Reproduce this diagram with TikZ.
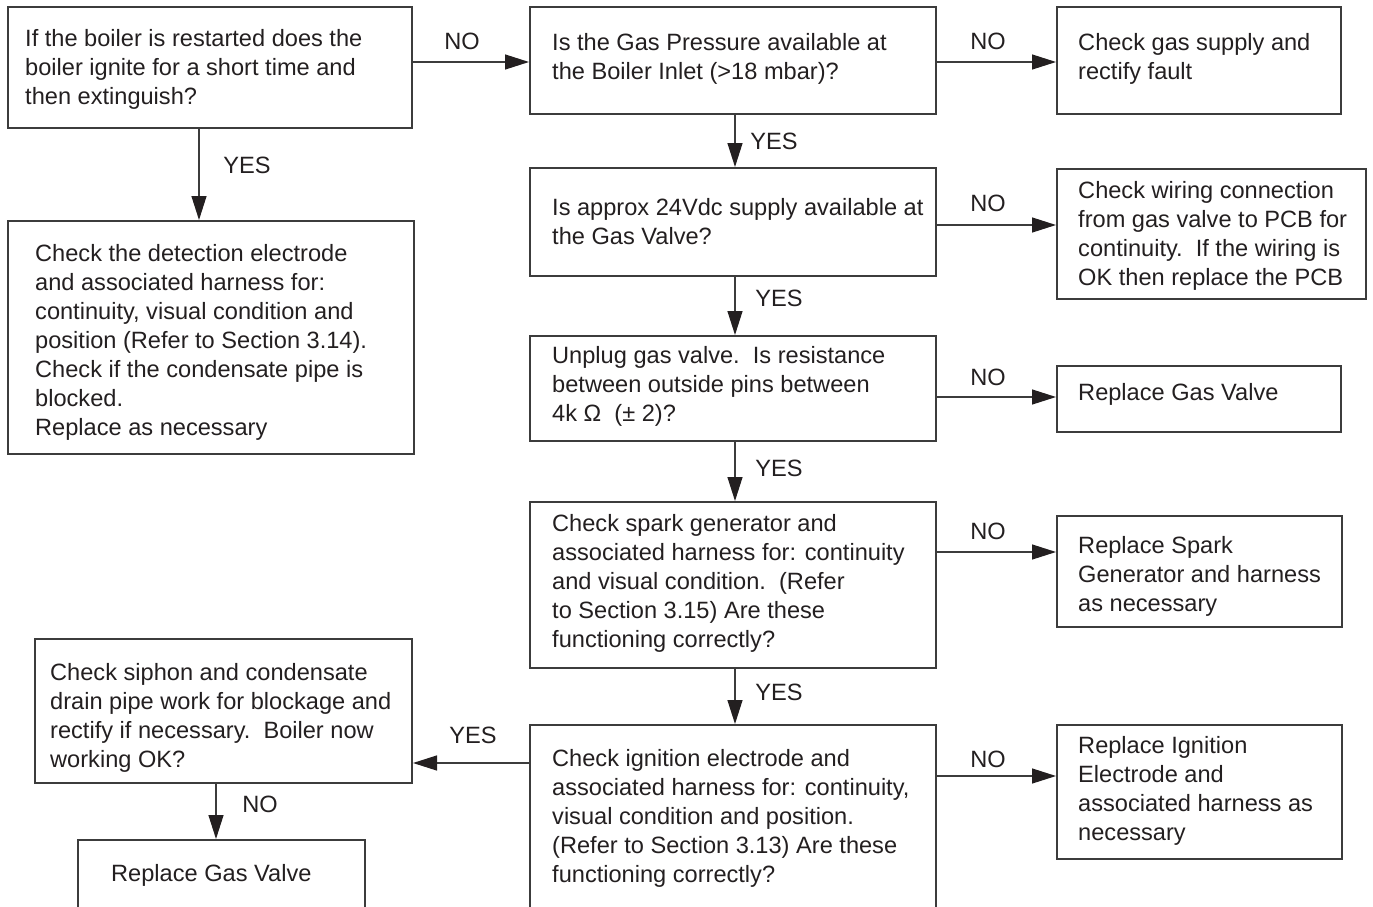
\documentclass[tikz,border=0pt]{standalone}
\usepackage{fontspec}
\setmainfont{Liberation Sans}
\usetikzlibrary{arrows.meta}
\definecolor{tc}{HTML}{231F20}
\definecolor{lc}{HTML}{3C3C3C}
\begin{document}
\begin{tikzpicture}[x=1pt,y=-1pt,
  box/.style={draw=lc, line width=1.3pt, inner sep=0pt, anchor=north west, outer sep=0pt},
  txt/.style={anchor=base west, align=left, inner sep=0pt, text=tc, font=\fontsize{23.6}{29}\selectfont},
  lbl/.style={anchor=base, inner sep=0pt, text=tc, font=\fontsize{23.6}{29}\selectfont},
  arr/.style={draw=lc, line width=1.3pt, -{Triangle[length=24pt,width=15pt,color=tc]}, shorten >=1pt}]
\useasboundingbox (0,0) rectangle (1373,907);
\clip (0,0) rectangle (1373,907);
% boxes
\node[box, minimum width=404, minimum height=121] (b1) at (8,7) {};
\node[box, minimum width=406, minimum height=107] (b2) at (530,7) {};
\node[box, minimum width=284, minimum height=107] (b3) at (1057,7) {};
\node[box, minimum width=406, minimum height=108] (b4) at (530,168) {};
\node[box, minimum width=309, minimum height=130] (b5) at (1057,169) {};
\node[box, minimum width=406, minimum height=105] (b6) at (530,336) {};
\node[box, minimum width=284, minimum height=66] (b7) at (1057,366) {};
\node[box, minimum width=406, minimum height=166] (b8) at (530,502) {};
\node[box, minimum width=285, minimum height=111] (b9) at (1057,516) {};
\node[box, minimum width=406, minimum height=220] (b10) at (530,725) {};
\node[box, minimum width=285, minimum height=134] (b11) at (1057,725) {};
\node[box, minimum width=377, minimum height=144] (b12) at (35,639) {};
\node[box, minimum width=287, minimum height=100] (b13) at (78,840) {};
\node[box, minimum width=406, minimum height=233] (b14) at (8,221) {};
% texts (anchored at the baseline of the last line)
\node[txt] (t1) at (25,104) {If the boiler is restarted does the\\boiler ignite for a short time and\\then extinguish?};
\node[txt] (t2) at (552,80) {Is the Gas Pressure available at\\the Boiler Inlet (>18 mbar)?};
\node[txt] (t3) at (1078,80) {Check gas supply and\\rectify fault};
\node[txt] (t4) at (552,244) {Is approx 24Vdc supply available at\\the Gas Valve?};
\node[txt] (t5) at (1078,285) {Check wiring connection\\from gas valve to PCB for\\continuity.\ \ If the wiring is\\OK then replace the PCB};
\node[txt] (t6) at (552,421) {Unplug gas valve.\ \ Is resistance\\between outside pins between\\4k Ω\ \ (± 2)?};
\node[txt] (t7) at (1078,400) {Replace Gas Valve};
\node[txt] (t8) at (552,647) {Check spark generator and\\associated harness for: continuity\\and visual condition.\ \ (Refer\\to Section 3.15) Are these\\functioning correctly?};
\node[txt] (t9) at (1078,611) {Replace Spark\\Generator and harness\\as necessary};
\node[txt] (t10) at (552,882) {Check ignition electrode and\\associated harness for: continuity,\\visual condition and position.\\(Refer to Section 3.13) Are these\\functioning correctly?};
\node[txt] (t11) at (1078,840) {Replace Ignition\\Electrode and\\associated harness as\\necessary};
\node[txt] (t12) at (50,767) {Check siphon and condensate\\drain pipe work for blockage and\\rectify if necessary.\ \ Boiler now\\working OK?};
\node[txt] (t13) at (111,881) {Replace Gas Valve};
\node[txt] (t14) at (35,435) {Check the detection electrode\\and associated harness for:\\continuity, visual condition and\\position (Refer to Section 3.14).\\Check if the condensate pipe is\\blocked.\\Replace as necessary};
% connectors
\draw[arr] (b1.east |- 0,62) -- (b2.west |- 0,62);
\draw[arr] (b2.east |- 0,62) -- (b3.west |- 0,62);
\draw[arr] (b2.south -| 735,0) -- (b4.north -| 735,0);
\draw[arr] (b4.east |- 0,225) -- (b5.west |- 0,225);
\draw[arr] (b4.south -| 735,0) -- (b6.north -| 735,0);
\draw[arr] (b6.east |- 0,397) -- (b7.west |- 0,397);
\draw[arr] (b6.south -| 735,0) -- (b8.north -| 735,0);
\draw[arr] (b8.east |- 0,552) -- (b9.west |- 0,552);
\draw[arr] (b8.south -| 735,0) -- (b10.north -| 735,0);
\draw[arr] (b10.east |- 0,776) -- (b11.west |- 0,776);
\draw[arr] (b10.west |- 0,763) -- (b12.east |- 0,763);
\draw[arr] (b12.south -| 216,0) -- (b13.north -| 216,0);
\draw[arr] (b1.south -| 199,0) -- (b14.north -| 199,0);
% labels
\node[lbl] (l1) at (462,49) {NO};
\node[lbl] (l2) at (988,49) {NO};
\node[lbl] (l3) at (774,149) {YES};
\node[lbl] (l4) at (988,211) {NO};
\node[lbl] (l5) at (779,306) {YES};
\node[lbl] (l6) at (988,385) {NO};
\node[lbl] (l7) at (779,476) {YES};
\node[lbl] (l8) at (988,539) {NO};
\node[lbl] (l9) at (779,700) {YES};
\node[lbl] (l10) at (988,767) {NO};
\node[lbl] (l11) at (473,743) {YES};
\node[lbl] (l12) at (260,812) {NO};
\node[lbl] (l13) at (247,173) {YES};
\end{tikzpicture}
\end{document}
